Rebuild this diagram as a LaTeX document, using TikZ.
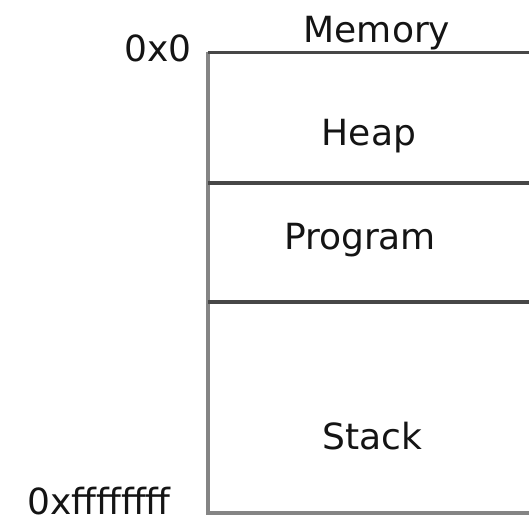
\documentclass[tikz,border=0pt]{standalone}
\usepackage{fontspec}
\setmainfont{DejaVu Sans}
\usepackage{tikz}
\usetikzlibrary{positioning}
\definecolor{rule}{HTML}{474747}
\definecolor{frame}{HTML}{858585}
\definecolor{ink}{HTML}{141414}

\begin{document}
\begin{tikzpicture}[x=1cm,y=1cm, lab/.style={font=\fontsize{20.5}{24}\selectfont,color=ink,inner sep=0pt,anchor=base}, divider/.style={draw=rule,line width=1.8pt}, wall/.style={draw=frame,line width=2.1pt}]
  \useasboundingbox (0,0) rectangle (10.58,10.44);
  % corners of the memory block
  \coordinate (tl) at (4.16,9.39); \coordinate (tr) at (10.58,9.39);
  \coordinate (bl) at (4.16,0.18); \coordinate (br) at (10.58,0.18);
  \coordinate (hl) at (4.16,6.78); \coordinate (hr) at (10.58,6.78);
  \coordinate (pl) at (4.16,4.40); \coordinate (pr) at (10.58,4.40);
  \draw[wall] (tl)--(bl)--(br);
  \draw[divider] (tl)--(tr);
  \draw[divider] (hl)--(hr);
  \draw[divider] (pl)--(pr);
  \node[lab] (memory) at (7.54,9.58) {Memory};
  \node[lab,anchor=base east] (top) at (3.84,9.20) {0x0};
  \node[lab] (heap) at (7.38,7.52) {Heap};
  \node[lab] (program) at (7.20,5.44) {Program};
  \node[lab] (stack) at (7.44,1.44) {Stack};
  \node[lab] (bottom) at (1.98,0.14) {0xffffffff};
\end{tikzpicture}
\end{document}
